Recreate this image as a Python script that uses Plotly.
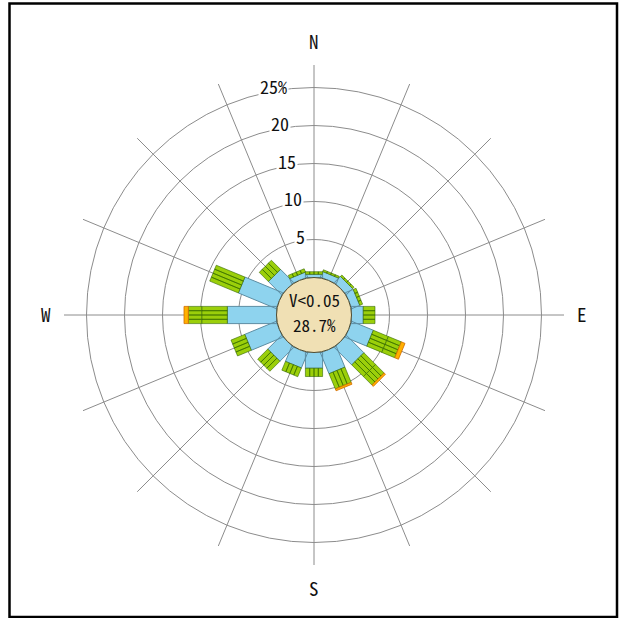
import math
import plotly.graph_objects as go

# ---------------- data (percent frequency by direction and speed class) ----------------
directions = ["N", "NNE", "NE", "ENE", "E", "ESE", "SE", "SSE",
              "S", "SSW", "SW", "WSW", "W", "WNW", "NW", "NNW"]
angles = [i * 22.5 for i in range(16)]
cls_blue = [0.42, 0.79, 1.12, 1.12, 1.55, 3.05, 3.22, 2.96,
            2.07, 2.14, 2.54, 4.46, 6.47, 5.37, 2.43, 0.72]
cls_green1 = [0.34, 0.25, 0.26, 0.40, 1.54, 2.14, 2.17, 2.17,
              1.09, 1.25, 1.87, 1.96, 3.37, 4.08, 1.70, 0.46]
cls_green2 = [0, 0, 0, 0, 0, 1.84, 1.58, 0,
              0, 0, 0, 0, 1.76, 0, 0, 0]
cls_orange = [0, 0, 0, 0, 0, 0.53, 0.26, 0.26,
              0, 0, 0, 0, 0.57, 0, 0, 0]
calm_label = "V&lt;0.05"
calm_pct = "28.7%"
ring_vals = [5, 10, 15, 20, 25]
ring_text = ["5", "10", "15", "20", "25%"]

# ---------------- geometry / style ----------------
FIG_W, FIG_H = 626, 618
CX, CY = 314, 315          # centre of rose (pixels from top-left)
HOLE_PX = 37.5             # calm circle radius
SCALE = 7.6                # pixels per percent
OUTER_PX = 250             # length of spokes
R_MAX = (OUTER_PX - HOLE_PX) / SCALE
H = HOLE_PX / SCALE
HALF_W = 8.6 / SCALE       # half width of a bar in percent units
N_STRIPES = 4

BLUE = "#8ED3EE"
GREEN = "#9BCF0A"
ORANGE = "#FFB000"
GRID = "#8c8c8c"
FONT = "Noto Sans Mono CJK JP, Noto Sans CJK JP, DejaVu Sans Mono, monospace"


def rect(theta, r1, r2, a0, a1):
    rs, ts = [], []
    for R, a in [(H + r1, a0), (H + r2, a0), (H + r2, a1), (H + r1, a1), (H + r1, a0)]:
        rs.append(math.hypot(R, a) - H)
        ts.append(theta + math.degrees(math.atan2(a, R)))
    return rs, ts


def collect(segments, stripes):
    R, T = [], []
    for theta, r1, r2 in segments:
        if r2 - r1 <= 0:
            continue
        n = stripes
        for k in range(n):
            a0 = -HALF_W + 2 * HALF_W * k / n
            a1 = -HALF_W + 2 * HALF_W * (k + 1) / n
            rs, ts = rect(theta, r1, r2, a0, a1)
            R += rs + [None]
            T += ts + [None]
    return R, T


blue_seg, g1_seg, g2_seg, or_seg = [], [], [], []
for i, th in enumerate(angles):
    b = cls_blue[i]
    g1 = b + cls_green1[i]
    g2 = g1 + cls_green2[i]
    o = g2 + cls_orange[i]
    blue_seg.append((th, 0, b))
    g1_seg.append((th, b, g1))
    g2_seg.append((th, g1, g2))
    or_seg.append((th, g2, o))

fig = go.Figure()


def add(R, T, fill, line, width):
    fig.add_trace(go.Scatterpolar(r=R, theta=T, mode="lines", fill="toself",
                                  fillcolor=fill, line=dict(color=line, width=width),
                                  hoverinfo="skip", showlegend=False, connectgaps=False))


add(*collect(blue_seg, 1), BLUE, "#5c8da3", 1)
add(*collect(g1_seg, N_STRIPES), GREEN, "#336600", 0.6)
add(*collect(g2_seg, N_STRIPES), GREEN, "#336600", 0.6)
add(*collect(or_seg, 1), ORANGE, "#d06a00", 0.8)

annotations = []
for lab, x, y in [("N", CX, 40), ("S", CX, 587), ("W", 46, 313), ("E", 582, 313)]:
    annotations.append(dict(text=lab, x=x / FIG_W, y=1 - y / FIG_H, xref="paper", yref="paper",
                            showarrow=False, xanchor="center", yanchor="middle",
                            font=dict(family=FONT, size=19, color="#111")))
for v, t in zip(ring_vals, ring_text):
    rp = HOLE_PX + v * SCALE + 5
    x = CX - rp * math.sin(math.radians(10))
    y = CY - rp * math.cos(math.radians(10))
    annotations.append(dict(text=t, x=x / FIG_W, y=1 - y / FIG_H, xref="paper", yref="paper",
                            showarrow=False, xanchor="center", yanchor="middle",
                            bgcolor="white", borderpad=1,
                            font=dict(family=FONT, size=18, color="#111")))
for t, y in [(calm_label, 299.5), (calm_pct, 324.5)]:
    annotations.append(dict(text=t, x=CX / FIG_W, y=1 - y / FIG_H,
                            xref="paper", yref="paper", showarrow=False,
                            xanchor="center", yanchor="middle",
                            font=dict(family=FONT, size=17, color="#111")))

shapes = [
    dict(type="circle", xref="paper", yref="paper",
         xsizemode="pixel", ysizemode="pixel",
         xanchor=CX / FIG_W, yanchor=1 - CY / FIG_H,
         x0=-HOLE_PX, x1=HOLE_PX, y0=-HOLE_PX, y1=HOLE_PX,
         fillcolor="#F0E0B4", line=dict(color="#4d4d33", width=1), layer="above"),
    dict(type="rect", xref="paper", yref="paper",
         x0=9.5 / FIG_W, x1=617 / FIG_W, y0=1 - 617 / FIG_H, y1=1 - 3.5 / FIG_H,
         line=dict(color="black", width=2.5), fillcolor="rgba(0,0,0,0)"),
]

fig.update_layout(
    width=FIG_W, height=FIG_H,
    margin=dict(l=0, r=0, t=0, b=0),
    paper_bgcolor="white",
    showlegend=False,
    polar=dict(
        domain=dict(x=[(CX - OUTER_PX) / FIG_W, (CX + OUTER_PX) / FIG_W],
                    y=[(FIG_H - CY - OUTER_PX) / FIG_H, (FIG_H - CY + OUTER_PX) / FIG_H]),
        hole=HOLE_PX / OUTER_PX,
        bgcolor="white",
        radialaxis=dict(range=[0, R_MAX], tickmode="array", tickvals=ring_vals,
                        showticklabels=False, ticks="", showline=False,
                        gridcolor=GRID, gridwidth=1),
        angularaxis=dict(direction="clockwise", rotation=90, tickmode="array",
                         tickvals=angles, showticklabels=False, ticks="", showline=False,
                         gridcolor=GRID, gridwidth=1),
    ),
    annotations=annotations,
    shapes=shapes,
)

fig.write_html("out.html")
